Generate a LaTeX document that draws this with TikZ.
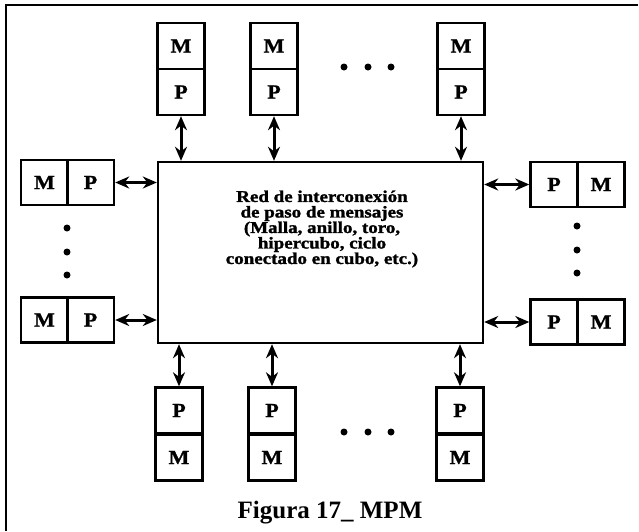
\documentclass[tikz,border=0pt]{standalone}
\usepackage{fontspec}
\setmainfont{Liberation Serif}
\usetikzlibrary{arrows.meta}
\begin{document}
\begin{tikzpicture}[x=1pt,y=-1pt,
  cell/.style={draw, line width=2.4pt, inner sep=0pt, minimum width=47pt, minimum height=46pt,
    font=\bfseries\addfontfeatures{FakeStretch=1.1,FakeBold=1.2}\fontsize{20}{20}\selectfont},
  hcell/.style={cell, minimum width=47pt, minimum height=45pt},
  biarrow/.style={line width=3pt, {Stealth[length=14pt,width=12pt]}-{Stealth[length=14pt,width=12pt]}},
  dot/.style={fill=black, circle, inner sep=0pt, minimum size=7pt}]
\useasboundingbox (0,0) rectangle (639,531);
% frame
\draw[line width=2.2pt] (6,531) -- (6,5) -- (638,5);
% network
\node[draw, line width=2.4pt, minimum width=325pt, minimum height=181pt] (net) at (320.5,252.5) {};
\node[align=center, font=\bfseries\addfontfeatures{FakeStretch=1.15,FakeBold=1.5}\fontsize{16.5}{15.5}\selectfont] (txt) at (322,229)
  {Red de interconexión\\de paso de mensajes\\(Malla, anillo, toro,\\hipercubo, ciclo\\conectado en cubo, etc.)};
% top
\foreach \n/\x in {t1/181,t2/274,t3/461}{
  \node[cell] (\n M) at (\x,46) {M};
  \node[cell] (\n P) at (\x,92) {P};
  \draw[biarrow] (\n P.south) -- (\n P.south |- net.north);
}
% bottom
\foreach \n/\x in {b1/179,b2/272,b3/460}{
  \node[cell] (\n P) at (\x,410.5) {P};
  \node[cell] (\n M) at (\x,457.5) {M};
  \draw[biarrow] (\n P.north) -- (\n P.north |- net.south);
}
% left
\foreach \n/\y in {l1/182.5,l2/320}{
  \node[hcell] (\n M) at (44.5,\y) {M};
  \node[hcell] (\n P) at (90.5,\y) {P};
  \draw[biarrow] (\n P.east) -- (\n P.east -| net.west);
}
% right
\foreach \n/\y in {r1/184.5,r2/322}{
  \node[hcell] (\n P) at (554,\y) {P};
  \node[hcell] (\n M) at (601,\y) {M};
  \draw[biarrow] (\n P.west) -- (\n P.west -| net.east);
}
% dots
\foreach \y [count=\i] in {228,252,275}{
  \node[dot] (ld\i) at (67,\y) {};
  \node[dot] (rd\i) at (577,\y-2) {};
}
\foreach \x [count=\i] in {344,368,391}{
  \node[dot] (td\i) at (\x,67) {};
  \node[dot] (bd\i) at (\x,432) {};
}
% caption
\node[font=\bfseries\fontsize{25}{25}\selectfont, anchor=base] (cap) at (330,518) {Figura 17\_ MPM};
\end{tikzpicture}
\end{document}
